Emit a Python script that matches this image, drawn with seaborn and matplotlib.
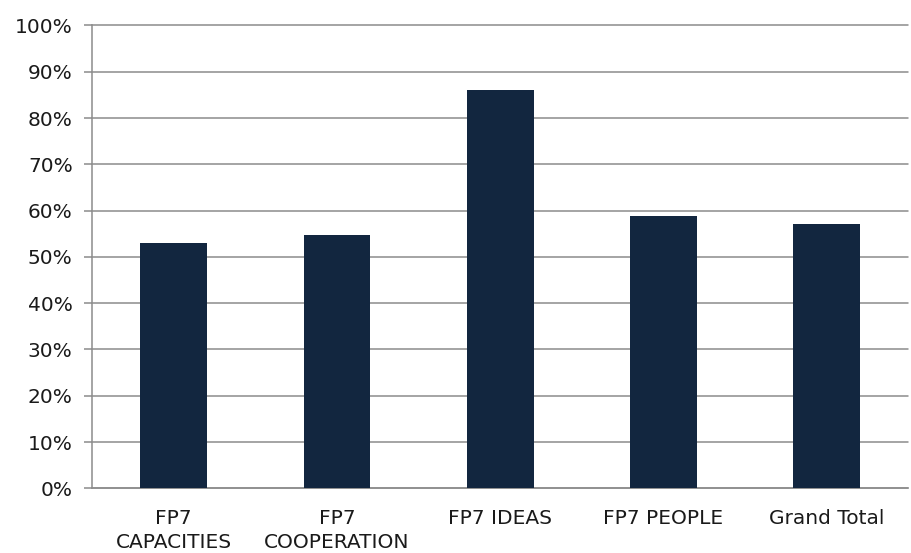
import matplotlib
matplotlib.use("Agg")
import matplotlib.pyplot as plt
import seaborn as sns
import pandas as pd
from matplotlib.ticker import FixedLocator, PercentFormatter

categories = ["FP7\nCAPACITIES", "FP7\nCOOPERATION", "FP7 IDEAS", "FP7 PEOPLE", "Grand Total"]
values = [53.1, 54.8, 86.0, 58.8, 57.2]

df = pd.DataFrame({"programme": categories, "share": values})

sns.set_style("white")
plt.rcParams["font.family"] = ["DejaVu Sans"]

fig = plt.figure(figsize=(9.12, 5.53), dpi=100)
ax = fig.add_axes([0.101, 0.117, 0.895, 0.837])

sns.barplot(data=df, x="programme", y="share", color="#12263f", saturation=1,
            width=0.41, linewidth=0, edgecolor="none", ax=ax, zorder=3)

ax.set_ylim(0, 100)
ax.set_xlim(-0.5, 4.5)
ax.set_yticks(range(0, 101, 10))
ax.yaxis.set_major_formatter(PercentFormatter(decimals=0))
ax.yaxis.grid(True, color="#8c8c8c", linewidth=1.1, zorder=0)
ax.set_axisbelow(True)
for gl in ax.get_ygridlines():
    gl.set_clip_on(False)

# category separators as ticks on the x axis
ax.xaxis.set_minor_locator(FixedLocator([-0.5, 0.5, 1.5, 2.5, 3.5]))
ax.tick_params(axis="x", which="major", length=0, pad=15, labelsize=14.5, labelcolor="#1a1a1a")
ax.tick_params(axis="x", which="minor", length=7, color="#8c8c8c", width=1.1)
ax.tick_params(axis="y", which="major", length=6, color="#8c8c8c", width=1.1, pad=8,
               labelsize=14.5, labelcolor="#1a1a1a", left=True)
for lbl in ax.get_xticklabels():
    lbl.set_linespacing(1.35)

for s in ["top", "right"]:
    ax.spines[s].set_visible(False)
for s in ["left", "bottom"]:
    ax.spines[s].set_color("#8c8c8c")
    ax.spines[s].set_linewidth(1.1)

ax.set_xlabel("")
ax.set_ylabel("")

fig.savefig("out.png", dpi=100)
